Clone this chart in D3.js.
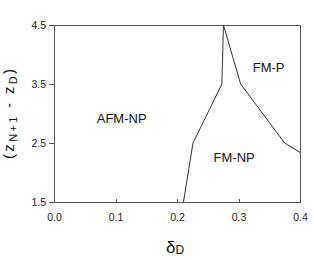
<!DOCTYPE html>
<html>
<head>
<meta charset="utf-8">
<script src="https://cdn.jsdelivr.net/npm/d3@7"></script>
<style>
  html, body { margin: 0; padding: 0; background: #fff; }
  svg { display: block; font-family: Arial, "Liberation Sans", sans-serif; }
</style>
</head>
<body>
<script>
// Data
const xTicks = [0.0, 0.1, 0.2, 0.3, 0.4];
const yTicks = [1.5, 2.5, 3.5, 4.5];
const b1Delta = [0.2105, 0.226, 0.273, 0.2755];
const b1Z     = [1.5, 2.5, 3.5, 4.5];
const b2Delta = [0.2755, 0.3035, 0.375, 0.4];
const b2Z     = [4.5, 3.5, 2.5, 2.34];
const regionLabels = ["AFM-NP", "FM-P", "FM-NP"];
const regionDelta  = [0.110, 0.349, 0.293];
const regionZ      = [2.84, 3.71, 2.18];

const W = 314, H = 260;
const svg = d3.select("body").append("svg").attr("width", W).attr("height", H);

const x = d3.scaleLinear().domain([0, 0.4]).range([54, 300]);
const y = d3.scaleLinear().domain([1.5, 4.5]).range([202, 25]);

const frame = "#555";

// frame
svg.append("rect")
  .attr("x", x(0)).attr("y", y(4.5))
  .attr("width", x(0.4) - x(0)).attr("height", y(1.5) - y(4.5))
  .attr("fill", "none").attr("stroke", frame).attr("stroke-width", 1)
  .attr("shape-rendering", "crispEdges");

// y axis (outward ticks)
const yAxis = d3.axisLeft(y).tickValues(yTicks).tickFormat(d3.format(".1f"))
  .tickSize(5).tickPadding(3);
const gy = svg.append("g").attr("transform", `translate(${x(0)},0)`).call(yAxis);
gy.select(".domain").remove();
gy.selectAll(".tick line").attr("stroke", frame).attr("shape-rendering", "crispEdges");
gy.selectAll(".tick text").attr("font-size", 10.5).attr("fill", "#222")
  .attr("font-family", "Arial, 'Liberation Sans', sans-serif");

// x axis (inward ticks)
const xAxis = d3.axisBottom(x).tickValues(xTicks).tickFormat(d3.format(".1f"))
  .tickSize(-3).tickPadding(12);
const gx = svg.append("g").attr("transform", `translate(0,${y(1.5)})`).call(xAxis);
gx.select(".domain").remove();
gx.selectAll(".tick line").attr("stroke", frame).attr("shape-rendering", "crispEdges");
gx.selectAll(".tick text").attr("font-size", 10.5).attr("fill", "#222")
  .attr("font-family", "Arial, 'Liberation Sans', sans-serif");

// boundaries
const line = d3.line().x(d => x(d[0])).y(d => y(d[1]));
const b1 = b1Delta.map((d, i) => [d, b1Z[i]]);
const b2 = b2Delta.map((d, i) => [d, b2Z[i]]);
[b1, b2].forEach(pts => {
  svg.append("path").attr("d", line(pts))
    .attr("fill", "none").attr("stroke", "#333").attr("stroke-width", 1);
});

// region labels
svg.selectAll("text.region").data(regionLabels).enter().append("text")
  .attr("class", "region")
  .attr("x", (d, i) => x(regionDelta[i]))
  .attr("y", (d, i) => y(regionZ[i]))
  .attr("text-anchor", "middle")
  .attr("font-size", 13).attr("fill", "#111")
  .text(d => d);

// x axis title
const xt = svg.append("text").attr("x", 175).attr("y", 253)
  .attr("text-anchor", "middle").attr("fill", "#111");
xt.append("tspan").attr("font-size", 17).text("δ");
xt.append("tspan").attr("font-size", 12).attr("dy", 1).text("D");

// y axis title
const yt = svg.append("text")
  .attr("transform", "translate(14,114) rotate(-90)")
  .attr("text-anchor", "middle").attr("fill", "#111")
  .attr("font-size", 15)
  .attr("textLength", 90).attr("lengthAdjust", "spacing");
yt.append("tspan").text("(z");
yt.append("tspan").attr("font-size", 11).attr("dy", 3).text("N+1");
yt.append("tspan").attr("dy", -3).text(" - z");
yt.append("tspan").attr("font-size", 11).attr("dy", 3).text("D");
yt.append("tspan").attr("dy", -3).text(")");
</script>
</body>
</html>
